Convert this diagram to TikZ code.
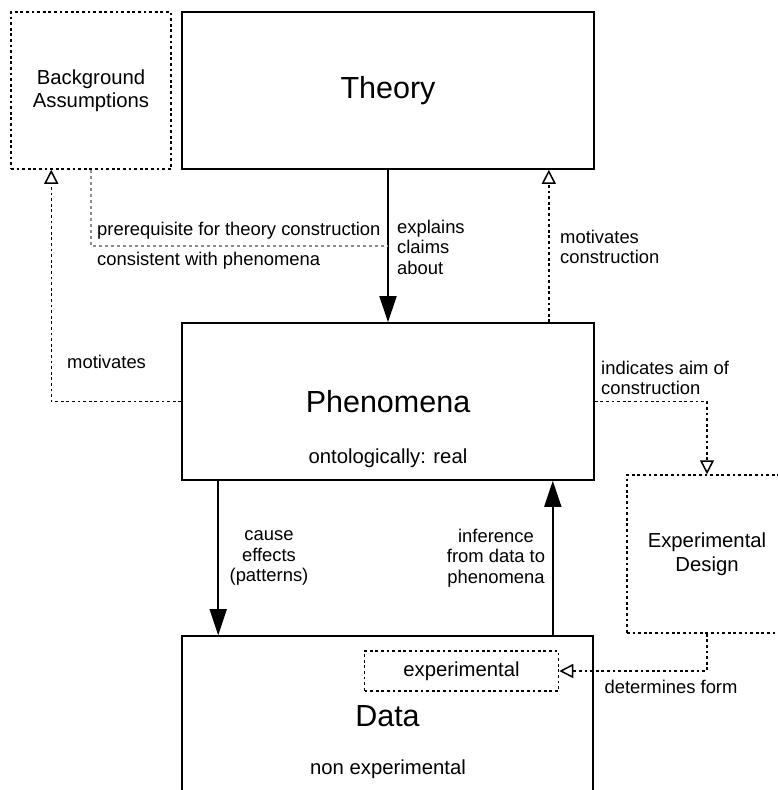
\documentclass[tikz,border=0pt]{standalone}
\usepackage{fontspec}
\setmainfont{Liberation Sans}
\usetikzlibrary{arrows.meta,calc,positioning}
\definecolor{linegray}{HTML}{8C8C8C}
\tikzset{
  box/.style={draw, line width=1.6pt, minimum width=412pt, minimum height=157pt, inner sep=0pt},
  dotbox/.style={draw, line width=1.5pt, dash pattern=on 2.8pt off 2.8pt, inner sep=0pt, align=center},
  big/.style={font=\fontsize{30.5}{36}\selectfont},
  mid/.style={font=\fontsize{20.3}{23.5}\selectfont},
  lbl/.style={font=\fontsize{18.4}{20.5}\selectfont, align=left, inner sep=0pt},
  solidarrow/.style={line width=1.6pt, -{Triangle[length=26pt,width=17pt]}},
  openarrow/.style={line width=1.5pt, dash pattern=on 2.8pt off 2.8pt, -{Triangle[open,length=14pt,width=14pt]}},
}
\begin{document}
\begin{tikzpicture}[x=1pt, y=-1pt]
  \clip (0,0) rectangle (778,790);
  \fill[white] (0,0) rectangle (778,790);
  % boxes
  \node[box, big] (theory) at (388,90.5) {Theory};
  \node[box, big] (phen) at (388,401.5) {Phenomena};
  \node[box, big, minimum width=411pt, minimum height=160pt] (data) at (387.5,716) {Data};
  \node[dotbox, mid, minimum width=160pt, minimum height=157pt] (bg) at (91,90.5) {Background\\Assumptions};
  \node[dotbox, mid, minimum width=160pt, minimum height=158pt] (design) at (707,554) {Experimental\\Design};
  \node[dotbox, mid, minimum width=194pt, minimum height=40pt] (exp) at (461.5,671) {experimental};
  \node[mid] (ontreal) at (388,458) {ontologically: real};
  \node[mid] (nonexp) at (388,769) {non experimental};
  % connectors
  \draw[solidarrow] (theory.south) -- (phen.north);
  \draw[openarrow] ([xshift=-46pt]phen.north east) -- ([xshift=-46pt]theory.south east);
  \draw[openarrow] (phen.west) -| ([xshift=41pt]bg.south west);
  \draw[linegray, line width=1.5pt, dash pattern=on 3pt off 3pt]
    (bg.south) |- ($(theory.south)!0.5!(phen.north)$);
  \draw[openarrow] (phen.east) -| (design.north);
  \draw[solidarrow] ([xshift=37pt]phen.south west) -- ([xshift=37pt]data.north west);
  \draw[solidarrow] ([xshift=-41pt]data.north east) -- ([xshift=-41pt]data.north east |- phen.south);
  \draw[openarrow] (design.south) |- (exp.east);
  % labels
  \node[lbl, anchor=west] (explains) at (397,247) {explains\\claims\\about};
  \node[lbl, anchor=west] (motcon) at (560,247) {motivates\\construction};
  \node[lbl, anchor=west] (aim) at (601,378) {indicates aim of\\construction};
  \node[lbl, anchor=west] (mot) at (67,362) {motivates};
  \node[lbl, anchor=west] (prereq) at (97,231) {prerequisite for theory construction};
  \node[lbl, anchor=west] (consist) at (97,261) {consistent with phenomena};
  \node[lbl, align=center] (cause) at (269,558) {cause\\effects\\(patterns)};
  \node[lbl, align=center] (infer) at (496,558) {inference\\from data to\\phenomena};
  \node[lbl] (form) at (671,687) {determines form};
\end{tikzpicture}
\end{document}
